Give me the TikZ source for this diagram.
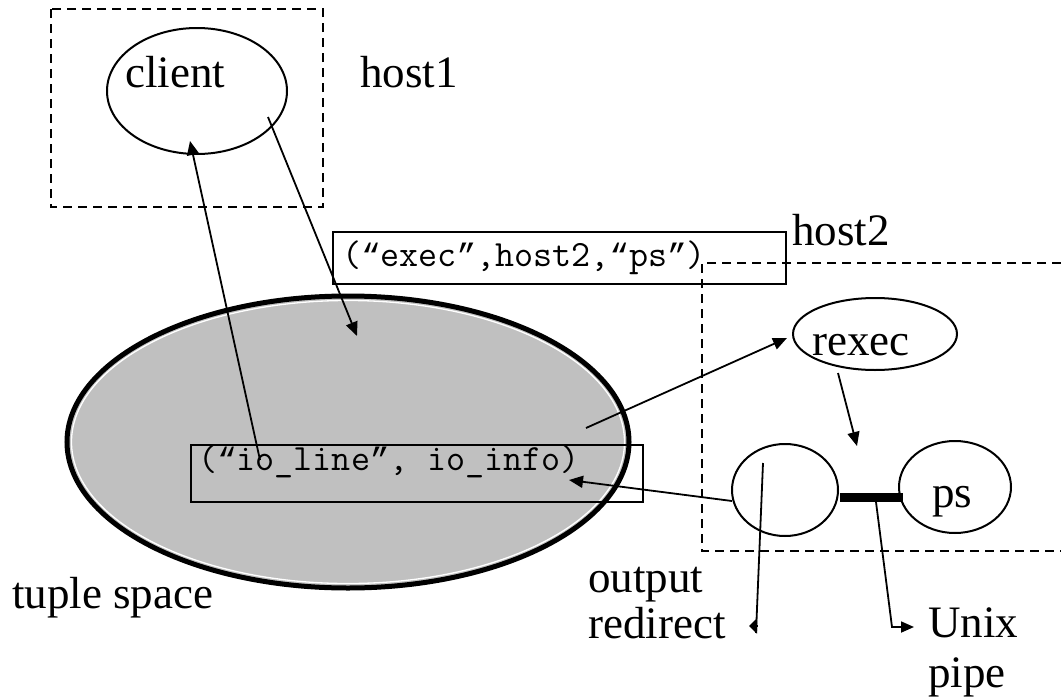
\documentclass[tikz,border=0pt]{standalone}
\usepackage{fontspec}
\setmainfont{Liberation Serif}
\newfontfamily\quotefont{Liberation Mono}[Scale=0.875]
\newcommand{\oq}{{\quotefont “}}
\newcommand{\cq}{{\quotefont ”}}
\usetikzlibrary{arrows.meta,shapes.geometric}
\definecolor{spacegray}{HTML}{C0C0C0}
\tikzset{
  lbl/.style={anchor=base west, inner sep=0pt, font=\fontsize{45}{48}\selectfont},
  code/.style={anchor=base west, inner sep=0pt, font=\ttfamily\fontsize{37}{40}\selectfont},
  proc/.style={ellipse, draw, line width=2pt, inner sep=0pt},
  hostline/.style={dash pattern=on 9pt off 6pt, line width=1.2pt},
  tuplebox/.style={draw, line width=1.6pt, inner sep=0pt, anchor=north west},
  msg/.style={line width=1.8pt, -{Triangle[length=14pt,width=12pt]}},
}
\begin{document}
\begin{tikzpicture}[x=1pt,y=-1pt]
\useasboundingbox (0,0) rectangle (1061,699);

% host boundaries
\draw[hostline] (51,9) rectangle (323,207);
\draw[hostline] (1061,263) -- (702,263) -- (702,551) -- (1061,551);

% the tuple space
\node[ellipse, draw, line width=5pt, fill=spacegray, inner sep=0pt,
      minimum width=562pt, minimum height=292pt] (tuple) at (348,442) {};
\draw[white, line width=1.3pt] (tuple.center) ellipse [x radius=276.5pt, y radius=141.5pt];

% tuples
\node[tuplebox, minimum width=453pt, minimum height=52pt] (execbox) at (332,231) {};
\node[tuplebox, minimum width=452pt, minimum height=57pt] (iobox) at (190,444) {};
\node[code] (exectxt) at (342,266) {(\oq exec\cq,host2,\oq ps\cq)};
\node[code] (iotxt) at (198,470) {(\oq io\_line\cq, io\_info)};

% processes
\node[proc, minimum width=180pt, minimum height=126pt] (client) at (197,91) {};
\node[proc, minimum width=164pt, minimum height=72pt] (rexec) at (875,334) {};
\node[proc, minimum width=106pt, minimum height=92pt] (redir) at (785,490) {};
\node[proc, minimum width=112pt, minimum height=92pt] (ps) at (955,487) {};

% unix pipe between the output redirector and ps
\coordinate (pipeL) at (840,497);
\coordinate (pipeR) at (903,497);
\draw[line width=9pt] (pipeL) -- (pipeR);

% message flow
\coordinate (inStart) at (260,460);
\coordinate (inEnd) at (190,141);
\coordinate (outStart) at (268,117);
\coordinate (outEnd) at (357,336);
\coordinate (execStart) at (586,428);
\coordinate (execEnd) at (787,338);
\coordinate (spawnStart) at (838,373);
\coordinate (spawnEnd) at (857,446);
\coordinate (ioStart) at (732,501);
\coordinate (ioEnd) at (569,480);
\draw[msg] (inStart) -- (inEnd);
\draw[msg] (outStart) -- (outEnd);
\draw[msg] (execStart) -- (execEnd);
\draw[msg] (spawnStart) -- (spawnEnd);
\draw[msg] (ioStart) -- (ioEnd);

% callouts
\coordinate (redirTop) at (763,463);
\coordinate (redirBend) at (756,633);
\coordinate (redirHook) at (757,626);
\coordinate (redirTip) at (749,626);
\draw[line width=1.8pt] (redirTop) -- (redirBend);
\draw[line width=1.8pt, -{Triangle[length=8pt,width=15pt]}] (redirHook) -- (redirTip);
\coordinate (pipeTop) at (876,502);
\coordinate (pipeBend) at (892,627);
\coordinate (pipeTip) at (914,627);
\draw[line width=1.8pt, -{Triangle[length=13pt,width=11pt]}] (pipeTop) -- (pipeBend) -- (pipeTip);

% labels
\node[lbl] (clientlbl) at (125,87) {client};
\node[lbl] (host1lbl) at (360,87) {host1};
\node[lbl] (host2lbl) at (792,245) {host2};
\node[lbl] (rexeclbl) at (812,355) {rexec};
\node[lbl] (pslbl) at (932,507) {ps};
\node[lbl] (spacelbl) at (12,608) {tuple space};
\node[lbl] (outputlbl) at (588,592) {output};
\node[lbl] (redirectlbl) at (588,638) {redirect};
\node[lbl] (unixlbl) at (928,637) {Unix};
\node[lbl] (pipelbl) at (928,687) {pipe};
\end{tikzpicture}
\end{document}
